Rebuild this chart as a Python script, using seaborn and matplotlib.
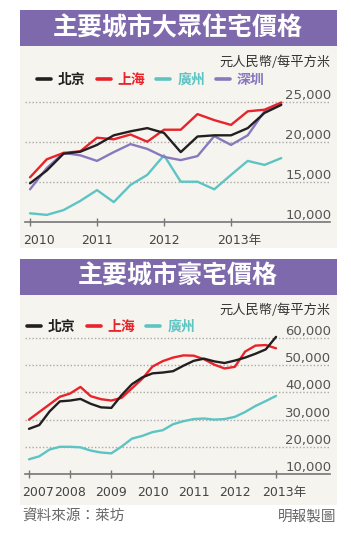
import pandas as pd
import seaborn as sns
import matplotlib.pyplot as plt
from matplotlib.patches import Rectangle
from matplotlib.transforms import ScaledTranslation

# mass-market prices, quarterly 2010Q1 - 2013Q4 (RMB / m2)
mass_quarters = [2010.0, 2010.25, 2010.5, 2010.75, 2011.0, 2011.25, 2011.5, 2011.75,
                 2012.0, 2012.25, 2012.5, 2012.75, 2013.0, 2013.25, 2013.5, 2013.75]
mass_beijing = [14800, 16400, 18500, 18750, 19600, 20800, 21300, 21700,
                21100, 18700, 20650, 20800, 20800, 21700, 23600, 24600]
mass_shanghai = [15550, 17800, 18600, 18800, 20500, 20300, 20900, 20000,
                 21500, 21500, 23450, 22700, 22100, 23800, 24000, 24900]
mass_guangzhou = [11050, 10850, 11450, 12600, 13950, 12450, 14600, 15850,
                  18300, 15000, 15000, 14050, 15850, 17600, 17100, 17950]
mass_shenzhen = [14050, 16700, 18600, 18300, 17600, 18700, 19700, 19100,
                 18100, 17700, 18200, 20700, 19600, 20800, 23800, 24700]

# luxury prices, quarterly 2007Q1 - 2013Q1
lux_quarters = [2007.0, 2007.25, 2007.5, 2007.75, 2008.0, 2008.25, 2008.5, 2008.75,
                2009.0, 2009.25, 2009.5, 2009.75, 2010.0, 2010.25, 2010.5, 2010.75,
                2011.0, 2011.25, 2011.5, 2011.75, 2012.0, 2012.25, 2012.5, 2012.75, 2013.0]
lux_beijing = [26600, 28000, 33000, 36700, 37000, 37600, 35800, 34500, 34300, 39000,
               43000, 45500, 47000, 47300, 47800, 49800, 51600, 52400, 51400, 50800,
               51700, 52800, 54200, 55800, 60400]
lux_shanghai = [30000, 32800, 35600, 38400, 39600, 42000, 38600, 37500, 37000, 38000,
                41500, 45000, 49500, 51500, 52800, 53600, 53500, 52200, 50200, 48800,
                49400, 55000, 57200, 57400, 56200]
lux_guangzhou = [15400, 16500, 19000, 20000, 20000, 19800, 18600, 17900, 17600, 20100,
                 23000, 24000, 25400, 26100, 28300, 29400, 30200, 30400, 30000, 30200,
                 31000, 32800, 35000, 36800, 38700]

mass_years = [2010, 2011, 2012, 2013]
mass_year_labels = ['2010', '2011', '2012', '2013年']
mass_yticks = [10000, 15000, 20000, 25000]
lux_years = [2007, 2008, 2009, 2010, 2011, 2012, 2013]
lux_year_labels = ['2007', '2008', '2009', '2010', '2011', '2012', '2013年']
lux_yticks = [10000, 20000, 30000, 40000, 50000, 60000]

colors = {'北京': '#231f20', '上海': '#e8232a', '廣州': '#5ec4c3', '深圳': '#8a78bf'}
BANNER = '#7f69ad'
PANEL = '#f6f4ef'
CJK = ['Noto Sans CJK TC', 'DejaVu Sans']

sns.set_theme(style='white')
plt.rcParams['font.family'] = ['DejaVu Sans', 'Noto Sans CJK TC']

mass_df = pd.DataFrame({
    'year': mass_quarters * 4,
    'price': mass_beijing + mass_shanghai + mass_guangzhou + mass_shenzhen,
    'city': ['北京'] * 16 + ['上海'] * 16 + ['廣州'] * 16 + ['深圳'] * 16,
})
lux_df = pd.DataFrame({
    'year': lux_quarters * 3,
    'price': lux_beijing + lux_shanghai + lux_guangzhou,
    'city': ['北京'] * 25 + ['上海'] * 25 + ['廣州'] * 25,
})

W, H = 351, 540
fig = plt.figure(figsize=(W / 100, H / 100), dpi=100)


def rect(x0, y0, x1, y1, color):
    # pixel box (top-left origin) -> figure patch, behind the axes
    fig.patches.append(Rectangle((x0 / W, 1 - y1 / H), (x1 - x0) / W, (y1 - y0) / H,
                                 transform=fig.transFigure, figure=fig,
                                 facecolor=color, edgecolor='none', zorder=-5))


rect(20, 10, 337, 248, PANEL)
rect(20, 10, 337, 46, BANNER)
rect(20, 259, 337, 505, PANEL)
rect(20, 259, 337, 295, BANNER)

fig.text(178 / W, 1 - 28 / H, '主要城市大眾住宅價格', color='white', fontsize=18,
         fontweight='bold', family=CJK, ha='center', va='center')
fig.text(178 / W, 1 - 277 / H, '主要城市豪宅價格', color='white', fontsize=18,
         fontweight='bold', family=CJK, ha='center', va='center')

for cy in (62, 310):
    fig.text(331 / W, 1 - cy / H, '元人民幣/每平方米', fontsize=9.5, color='#333',
             family=CJK, ha='right', va='center')


def panel(ax, df, order, years, ylabels_x, yticks, xlim, ylim, leg_xy):
    sns.lineplot(data=df, x='year', y='price', hue='city', hue_order=order,
                 palette=colors, linewidth=1.7, ax=ax)
    for line, z in zip(ax.lines, [6, 5, 3, 4]):
        line.set_zorder(z)
    ax.set_facecolor('none')
    ax.set_xlim(*xlim)
    ax.set_ylim(*ylim)
    ax.set_xlabel('')
    ax.set_ylabel('')
    sns.despine(ax=ax, left=True)
    ax.spines['bottom'].set_color('#777')
    ax.spines['bottom'].set_linewidth(1.2)
    ax.grid(False)
    ax.yaxis.grid(True, color='#aaa', linestyle=(0, (1, 1.5)), linewidth=1)

    ax.set_xticks(years)
    ax.set_xticklabels(ylabels_x)
    ax.tick_params(axis='x', direction='inout', length=6, width=1, color='#777',
                   labelsize=9, labelcolor='#444', pad=5.5, bottom=True)
    labels = ax.get_xticklabels()
    labels[0].set_transform(labels[0].get_transform() + ScaledTranslation(9 / 100, 0, fig.dpi_scale_trans))
    labels[-1].set_transform(labels[-1].get_transform() + ScaledTranslation(8 / 100, 0, fig.dpi_scale_trans))

    ax.set_yticks(yticks)
    ax.set_yticklabels([f'{v:,}' for v in yticks])
    ax.yaxis.tick_right()
    ax.tick_params(axis='y', length=0, pad=1, labelsize=9.5, labelcolor='#555')
    for t in ax.get_yticklabels():
        t.set_ha('right')
        t.set_va('bottom')

    sns.move_legend(ax, 'center left', bbox_to_anchor=(leg_xy[0] / W, 1 - leg_xy[1] / H),
                    bbox_transform=fig.transFigure, ncol=len(order), frameon=False,
                    title=None, handlelength=1.0, handletextpad=0.5, columnspacing=0.8,
                    borderpad=0, borderaxespad=0, labelcolor='linecolor',
                    prop={'family': CJK, 'weight': 'bold', 'size': 10})
    for h in ax.get_legend().legend_handles:
        h.set_linewidth(2.6)


ax1 = fig.add_axes([25 / W, 1 - 221.7 / H, 305 / W, 126.7 / H])
panel(ax1, mass_df, ['北京', '上海', '廣州', '深圳'], mass_years, mass_year_labels,
      mass_yticks, (2009.925, 2014.478), (10000, 25840), (37, 80))

ax2 = fig.add_axes([25 / W, 1 - 474 / H, 305 / W, 142 / H])
panel(ax2, lux_df, ['北京', '上海', '廣州'], lux_years, lux_year_labels,
      lux_yticks, (2006.903, 2014.311), (10000, 62200), (27, 327))

fig.text(22 / W, 1 - 517 / H, '資料來源：萊坊', fontsize=10.5, color='#666',
         family=CJK, ha='left', va='center')
fig.text(336 / W, 1 - 517 / H, '明報製圖', fontsize=10.5, color='#666',
         family=CJK, ha='right', va='center')

fig.savefig('out.png', dpi=100, facecolor='white')
